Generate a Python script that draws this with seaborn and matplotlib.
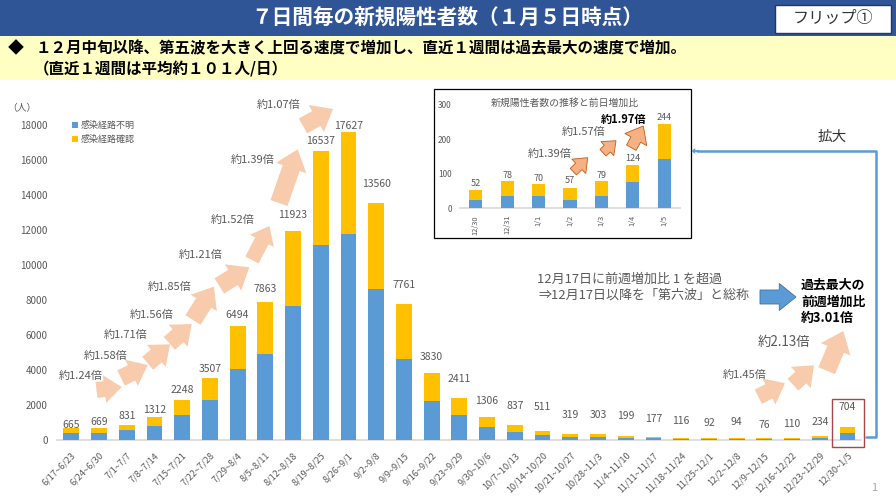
import pandas as pd
import seaborn as sns
import matplotlib.pyplot as plt
from matplotlib.patches import FancyArrow, Rectangle

W, H = 896, 504
JP = ['Noto Sans CJK JP', 'DejaVu Sans']
GRAY = '#595959'
BLUE = '#5B9BD5'
YELLOW = '#FFC000'

periods = ['6/17~6/23', '6/24~6/30', '7/1~7/7', '7/8~7/14', '7/15~7/21', '7/22~7/28',
           '7/29~8/4', '8/5~8/11', '8/12~8/18', '8/19~8/25', '8/26~9/1', '9/2~9/8',
           '9/9~9/15', '9/16~9/22', '9/23~9/29', '9/30~10/6', '10/7~10/13', '10/14~10/20',
           '10/21~10/27', '10/28~11/3', '11/4~11/10', '11/11~11/17', '11/18~11/24',
           '11/25~12/1', '12/2~12/8', '12/9~12/15', '12/16~12/22', '12/23~12/29', '12/30~1/5']
weekly_total = [665, 669, 831, 1312, 2248, 3507, 6494, 7863, 11923, 16537, 17627, 13560, 7761,
                3830, 2411, 1306, 837, 511, 319, 303, 199, 177, 116, 92, 94, 76, 110, 234, 704]
weekly_unknown = [380, 380, 530, 800, 1420, 2270, 4060, 4890, 7650, 11130, 11780, 8620, 4620,
                  2210, 1410, 730, 430, 270, 170, 170, 110, 80, 50, 50, 50, 40, 50, 90, 370]

days = ['12/30', '12/31', '1/1', '1/2', '1/3', '1/4', '1/5']
daily_total = [52, 78, 70, 57, 79, 124, 244]
daily_unknown = [22, 36, 36, 22, 36, 76, 141]

# how far each number sits above its bar, in pixels (hand placed in the original)
weekly_gaps = [3.4, 5.7, 9.2, 7, 10.4, 9.3, 11, 13, 16.7, 9.3, 5.9, 18.4, 18.9, 15.7, 18.2,
               15.8, 19, 24, 19.4, 19.7, 19.9, 17.9, 16.4, 14.8, 16, 13.7, 13.5, 13.3, 20.1]
daily_gaps = [6.8, 6, 4.9, 7.4, 5, 7.3, 6]

sns.set_theme(style='white')
plt.rcParams['font.family'] = JP

fig = plt.figure(figsize=(W / 100, H / 100), dpi=100)


def px_axes(left, top, right, bottom, zorder):
    return fig.add_axes([left / W, 1 - bottom / H, (right - left) / W, (bottom - top) / H],
                        zorder=zorder, facecolor='none')


def stacked_bars(ax, labels, total, unknown, width, ymax, gaps, label_size):
    df = pd.DataFrame({'label': labels, 'total': total, 'unknown': unknown})
    sns.barplot(data=df, x='label', y='total', color=YELLOW, saturation=1, width=width,
                linewidth=0, ax=ax, label='感染経路確認')
    sns.barplot(data=df, x='label', y='unknown', color=BLUE, saturation=1, width=width,
                linewidth=0, ax=ax, label='感染経路不明')
    ax.set_xlim(-0.5, len(labels) - 0.5)
    ax.set_ylim(0, ymax)
    ax.set_xlabel('')
    ax.set_ylabel('')
    sns.despine(ax=ax, left=True)
    ax.spines['bottom'].set_color('#D9D9D9')
    ax.spines['bottom'].set_zorder(0.5)
    for i, (v, gap) in enumerate(zip(total, gaps)):
        ax.annotate(str(v), (i, v), xytext=(0, gap * 0.72), textcoords='offset points',
                    ha='center', va='center', fontsize=label_size, color=GRAY)


# main chart
ax = px_axes(57.4, 125, 861.4, 439.7, 1)
stacked_bars(ax, periods, weekly_total, weekly_unknown, 0.57, 18000, weekly_gaps, 7.5)
ax.set_yticks(range(0, 18001, 2000))
ax.tick_params(axis='y', length=0, pad=7, labelsize=7, labelcolor=GRAY)
ax.tick_params(axis='x', length=0, pad=8, labelsize=6.6, labelcolor=GRAY)
plt.setp(ax.get_xticklabels(), rotation=45, ha='right', rotation_mode='anchor')
handles, names = ax.get_legend_handles_labels()
ax.legend(handles[::-1], names[::-1], frameon=False, loc='upper left',
          bbox_to_anchor=(0.012, 1.027), fontsize=6.5, labelcolor=GRAY, handlelength=0.7,
          handleheight=0.7, handletextpad=0.3, labelspacing=0.55, borderpad=0)

# inset
inset = px_axes(460, 104.7, 680, 208, 2)
stacked_bars(inset, days, daily_total, daily_unknown, 0.42, 300, daily_gaps, 6.5)
inset.set_yticks([0, 100, 200, 300])
inset.tick_params(axis='y', length=0, pad=6, labelsize=6, labelcolor=GRAY)
inset.tick_params(axis='x', length=0, pad=5, labelsize=5.4, labelcolor=GRAY)
plt.setp(inset.get_xticklabels(), rotation=90)
if inset.get_legend():
    inset.get_legend().remove()

# slide furniture, drawn in pixel coordinates on top of the charts
canvas = px_axes(0, 0, W, H, 3)
canvas.set_xlim(0, W)
canvas.set_ylim(H, 0)
canvas.axis('off')

canvas.add_patch(Rectangle((0, 0), W, 36, color='#2F5597', lw=0))
canvas.add_patch(Rectangle((0, 36), W, 44, color='#FFFFC4', lw=0))
canvas.add_patch(Rectangle((775, 5), 115.5, 27.5, fc='white', ec='#1F3864', lw=1))
canvas.add_patch(Rectangle((434.3, 89.3), 256.4, 149, fc='none', ec='black', lw=0.9))
canvas.add_patch(Rectangle((831.7, 399.3), 32.6, 48, fc='none', ec='#A5484A', lw=1))

canvas.text(447, 18, '７日間毎の新規陽性者数（１月５日時点）', color='white', fontsize=14.9,
            fontweight='bold', ha='center', va='center')
canvas.text(833, 18.5, 'フリップ①', color='#333333', fontsize=11.6, ha='center', va='center')
canvas.text(15.5, 48, '◆', color='black', fontsize=11.5, fontweight='bold', ha='center', va='center')
canvas.text(36, 48, '１２月中旬以降、第五波を大きく上回る速度で増加し、直近１週間は過去最大の速度で増加。',
            color='black', fontsize=11.2, fontweight='bold', va='center')
canvas.text(34, 68, '（直近１週間は平均約１０１人/日）', color='black', fontsize=11.2, fontweight='bold',
            va='center')
canvas.text(22, 108, '（人）', color=GRAY, fontsize=7, ha='center', va='center')
canvas.text(874, 488, '1', color='#A6A6A6', fontsize=8, ha='center', va='center')


def block_arrow(x0, y0, x1, y1, width, head, face, edge='none'):
    canvas.add_patch(FancyArrow(x0, y0, x1 - x0, y1 - y0, width=width, head_width=head,
                                head_length=head * 0.62, length_includes_head=True,
                                fc=face, ec=edge, lw=0.6))


main_arrows = [(96.5, 390, 121.7, 387, 16, 28), (121, 378, 147.7, 365, 17, 29),
               (147.7, 363.3, 170, 344.3, 17, 29), (169.3, 343.3, 191.7, 324, 17, 29),
               (193, 320, 214, 286.7, 18, 31), (219.3, 286, 249.3, 267.3, 18, 31),
               (252, 260, 269.5, 226, 15, 27), (279, 203, 297.7, 149.3, 18, 32),
               (303, 126, 333, 109, 17, 31), (758.3, 396.7, 785, 383.3, 16, 29),
               (793, 384.7, 814, 365.3, 16, 29), (826.7, 370.7, 843.3, 331, 18, 32)]
for a in main_arrows:
    block_arrow(*a, '#F8CBAD')

inset_arrows = [(573.3, 171.7, 587.7, 157.7, 9, 20), (603, 152.7, 616, 140.7, 9, 19),
                (631.3, 147.7, 643.3, 126, 11, 25)]
for a in inset_arrows:
    block_arrow(*a, '#F4B183', '#C55A11')

block_arrow(760, 297, 796, 297, 14, 27, BLUE, '#41719C')

# link from the last bar up to the inset
canvas.plot([866, 875.5, 875.5, 697], [437, 437, 151, 151], color=BLUE, lw=1.8)
block_arrow(699, 151, 691.5, 151, 1.8, 6, BLUE)

ratio_labels = [(81, 376, '約1.24倍'), (106, 356, '約1.58倍'), (126, 334.7, '約1.71倍'),
                (151.5, 315, '約1.56倍'), (170, 287, '約1.85倍'), (201, 255, '約1.21倍'),
                (232.5, 220, '約1.52倍'), (253, 160, '約1.39倍'), (279, 104.5, '約1.07倍'),
                (745, 375.3, '約1.45倍')]
for x, y, s in ratio_labels:
    canvas.text(x, y, s, color=GRAY, fontsize=8, ha='center', va='center')
canvas.text(784, 342, '約2.13倍', color=GRAY, fontsize=9.6, ha='center', va='center')

canvas.text(565, 103, '新規陽性者数の推移と前日増加比', color=GRAY, fontsize=7.1, ha='center', va='center')
canvas.text(549.3, 154, '約1.39倍', color=GRAY, fontsize=8, ha='center', va='center')
canvas.text(583.3, 132, '約1.57倍', color=GRAY, fontsize=8, ha='center', va='center')
canvas.text(624, 119, '約1.97倍', color='black', fontsize=8, fontweight='bold', ha='center', va='center')

canvas.text(536.7, 279.3, '12月17日に前週増加比 1 を超過', color=GRAY, fontsize=9.4, va='center')
canvas.text(538, 295.5, '⇒12月17日以降を「第六波」と総称', color=GRAY, fontsize=9.4, va='center')
canvas.text(832, 137, '拡大', color='#333333', fontsize=10.5, ha='center', va='center')
for y, s in [(285, '過去最大の'), (301.7, '前週増加比'), (317.7, '約3.01倍')]:
    canvas.text(801, y, s, color='black', fontsize=9.3, fontweight='bold', va='center')

fig.savefig('out.png', dpi=100)
